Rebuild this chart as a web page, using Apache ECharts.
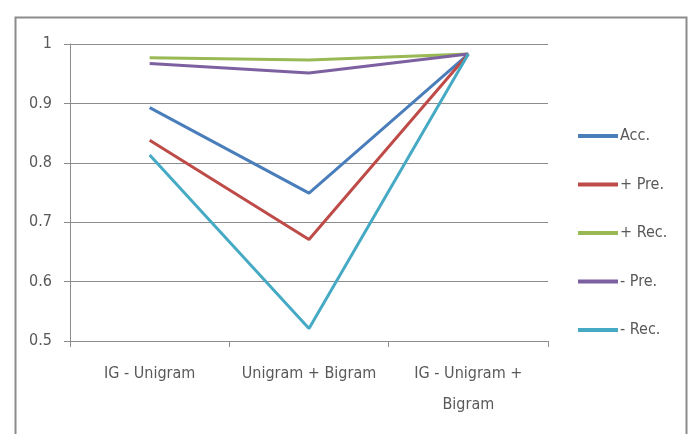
<!DOCTYPE html>
<html><head><meta charset="utf-8">
<script src="https://cdn.jsdelivr.net/npm/echarts@6/dist/echarts.min.js"></script>
<style>html,body{margin:0;padding:0;background:#fff}#c{width:688px;height:434px}</style>
</head><body><div id="c"></div>
<script>
const categories = ['IG - Unigram', 'Unigram + Bigram', 'IG - Unigram +\nBigram'];
const seriesNames = ['Acc.', '+ Pre.', '+ Rec.', '- Pre.', '- Rec.'];
const acc = [0.893, 0.749, 0.983];
const posPre = [0.838, 0.671, 0.983];
const posRec = [0.977, 0.973, 0.983];
const negPre = [0.967, 0.951, 0.983];
const negRec = [0.813, 0.521, 0.983];
const yTicks = [0.5, 0.6, 0.7, 0.8, 0.9, 1];
const colors = ['#4A7EBB', '#BE4B48', '#98B954', '#7D60A0', '#46AAC5'];
const values = [acc, posPre, posRec, negPre, negRec];
const FONT = '"Liberation Sans Narrow", "DejaVu Sans Condensed", sans-serif';
const chart = echarts.init(document.getElementById('c'), null, {renderer: 'canvas'});
chart.setOption({
  animation: false,
  backgroundColor: '#fff',
  color: colors,
  graphic: [{
    type: 'rect', left: 13, top: 15, shape: {width: 671, height: 440},
    style: {fill: 'none', stroke: '#8c8c8c', lineWidth: 2}, silent: true
  }],
  grid: {left: 70, right: 140, top: 44, bottom: 93, containLabel: false},
  legend: {
    orient: 'vertical', left: 573, top: 123,
    itemWidth: 40, itemHeight: 4, itemGap: 32.5, icon: 'rect',
    textStyle: {fontFamily: FONT, fontSize: 16, color: '#595959', lineHeight: 16, padding: [0, 0, 0, -3]},
    data: seriesNames
  },
  xAxis: {
    type: 'category', data: categories, boundaryGap: true,
    axisLine: {lineStyle: {color: '#8c8c8c', width: 1}},
    axisTick: {show: true, length: 6, lineStyle: {color: '#8c8c8c'}},
    axisLabel: {fontFamily: FONT, fontSize: 16, color: '#595959', margin: 17, lineHeight: 31, interval: 0}
  },
  yAxis: {
    type: 'value', min: 0.5, max: 1, interval: 0.1,
    axisLine: {show: true, lineStyle: {color: '#8c8c8c', width: 1}},
    axisTick: {show: true, length: 6, lineStyle: {color: '#8c8c8c'}},
    splitLine: {lineStyle: {color: '#8c8c8c', width: 1}},
    axisLabel: {fontFamily: FONT, fontSize: 16, color: '#595959', margin: 18,
      formatter: v => { const t = yTicks.find(x => Math.abs(x - v) < 1e-6); return t === undefined ? '' : String(t); }}
  },
  series: seriesNames.map((n, i) => ({
    name: n, type: 'line', data: values[i], showSymbol: false, symbol: 'none',
    lineStyle: {width: 3, color: colors[i]}, itemStyle: {color: colors[i]}
  }))
});
</script></body></html>
